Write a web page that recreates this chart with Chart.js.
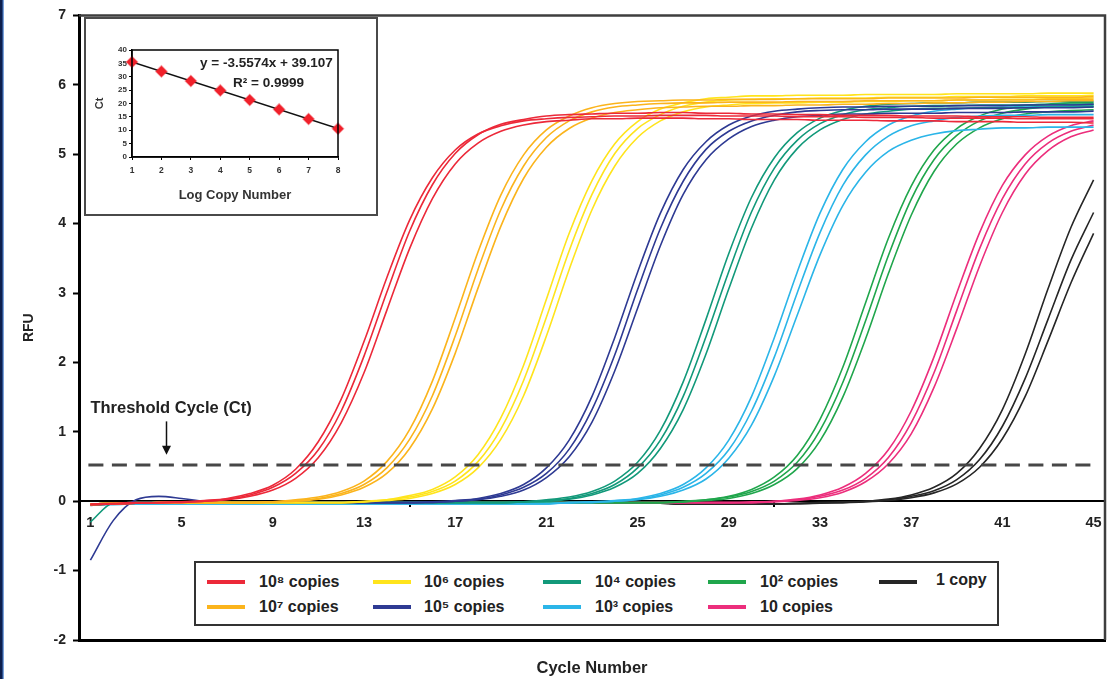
<!DOCTYPE html>
<html lang="en">
<head>
<meta charset="utf-8">
<title>Real-time PCR amplification curves</title>
<script src="https://cdn.jsdelivr.net/npm/chart.js@4.4.1/dist/chart.umd.min.js"></script>
<style>
html,body{margin:0;padding:0;background:#fff;}
#wrap{position:relative;width:1114px;height:679px;overflow:hidden;background:#fff;font-family:"Liberation Sans",Arial,sans-serif;}
#main{position:absolute;left:0;top:0;}
#edge{position:absolute;left:0;top:0;width:4px;height:679px;background:linear-gradient(to right,#0d1f4d 0,#0d1f4d 2px,#4d7fc9 3px,#a9c6ec 4px);}
#inset{position:absolute;left:84px;top:17px;width:294px;height:199px;box-sizing:border-box;border:2px solid #4a4a4a;background:#fff;}
#insetCanvas{position:absolute;left:0;top:0;}
.eq{position:absolute;font-weight:bold;font-size:13.5px;line-height:15px;color:#222;white-space:nowrap;}
#legend{position:absolute;left:194px;top:561px;width:805px;height:65px;box-sizing:border-box;border:2px solid #333;background:#fff;}
.sw{position:absolute;width:38px;height:4px;}
.lt{position:absolute;font-size:16px;line-height:18px;font-weight:bold;color:#222;white-space:nowrap;}
</style>
</head>
<body>
<div id="wrap">
  <canvas id="main" width="1114" height="679"></canvas>
  <div id="edge"></div>
  <div id="inset">
    <canvas id="insetCanvas" width="290" height="195"></canvas>
    <div class="eq" style="left:114px;top:36px;">y = -3.5574x + 39.107</div>
    <div class="eq" style="left:147px;top:56px;">R² = 0.9999</div>
  </div>
  <div id="legend"></div>
</div>
<script>
// ---------- DATA ----------
const cycles = [1,2,3,4,5,6,7,8,9,10,11,12,13,14,15,16,17,18,19,20,21,22,23,24,25,26,27,28,29,30,31,32,33,34,35,36,37,38,39,40,41,42,43,44,45];

const rfu_1e8 = [
 [-0.05,-0.04,-0.03,-0.02,-0.01,0.01,0.04,0.11,0.23,0.46, 0.86,1.47,2.30,3.22,4.05,4.66,5.06,5.29,5.41,5.48, 5.51,5.53,5.54,5.55,5.55,5.56,5.56,5.56,5.55,5.55, 5.55,5.54,5.54,5.54,5.53,5.53,5.53,5.52,5.52,5.52, 5.52,5.51,5.51,5.51,5.51],
 [-0.05,-0.04,-0.03,-0.02,-0.01,0.00,0.03,0.09,0.20,0.40, 0.74,1.30,2.09,3.01,3.89,4.56,5.01,5.28,5.43,5.50, 5.55,5.57,5.58,5.59,5.59,5.60,5.60,5.59,5.59,5.58, 5.58,5.57,5.57,5.56,5.56,5.56,5.55,5.55,5.55,5.54, 5.54,5.54,5.53,5.53,5.53],
 [-0.04,-0.03,-0.02,-0.02,-0.02,0.00,0.02,0.07,0.16,0.33, 0.63,1.13,1.85,2.75,3.64,4.36,4.86,5.16,5.33,5.42, 5.47,5.49,5.51,5.51,5.52,5.52,5.52,5.51,5.51,5.50, 5.50,5.50,5.49,5.49,5.49,5.48,5.48,5.48,5.47,5.47, 5.47,5.46,5.46,5.46,5.45]
];
const rfu_1e7 = [
 [-0.04,-0.03,-0.03,-0.02,-0.02,-0.02,-0.02,-0.02,-0.01,0.02, 0.06,0.14,0.29,0.57,1.03,1.73,2.64,3.59,4.41,4.99, 5.35,5.55,5.67,5.73,5.76,5.77,5.78,5.78,5.79,5.79, 5.79,5.80,5.80,5.80,5.80,5.81,5.81,5.81,5.81,5.82, 5.82,5.82,5.82,5.82,5.83],
 [-0.05,-0.04,-0.03,-0.03,-0.02,-0.02,-0.02,-0.02,-0.01,0.01, 0.04,0.11,0.24,0.48,0.89,1.52,2.38,3.34,4.20,4.83, 5.24,5.48,5.61,5.68,5.71,5.73,5.74,5.74,5.75,5.75, 5.75,5.76,5.76,5.76,5.77,5.77,5.77,5.77,5.78,5.78, 5.78,5.78,5.79,5.79,5.79],
 [-0.04,-0.03,-0.03,-0.02,-0.02,-0.02,-0.02,-0.02,-0.01,0.00, 0.03,0.09,0.20,0.40,0.76,1.33,2.13,3.07,3.96,4.65, 5.10,5.37,5.52,5.60,5.64,5.67,5.68,5.69,5.69,5.70, 5.70,5.71,5.71,5.72,5.72,5.73,5.73,5.74,5.74,5.75, 5.75,5.76,5.76,5.77,5.77]
];
const rfu_1e6 = [
 [-0.04,-0.03,-0.03,-0.02,-0.02,-0.02,-0.02,-0.02,-0.02,-0.02, -0.02,-0.02,0.00,0.02,0.08,0.17,0.35,0.67,1.20,1.96, 2.91,3.86,4.62,5.15,5.47,5.65,5.74,5.80,5.82,5.84, 5.84,5.85,5.85,5.85,5.86,5.86,5.86,5.86,5.87,5.87, 5.87,5.87,5.88,5.88,5.88],
 [-0.05,-0.04,-0.03,-0.03,-0.02,-0.02,-0.02,-0.02,-0.02,-0.02, -0.02,-0.02,-0.01,0.02,0.06,0.14,0.29,0.57,1.04,1.74, 2.65,3.61,4.42,5.01,5.37,5.57,5.69,5.75,5.78,5.79, 5.80,5.80,5.81,5.81,5.81,5.82,5.82,5.82,5.83,5.83, 5.83,5.84,5.84,5.84,5.85],
 [-0.04,-0.03,-0.03,-0.02,-0.02,-0.02,-0.02,-0.02,-0.02,-0.02, -0.02,-0.02,-0.01,0.01,0.04,0.11,0.24,0.48,0.89,1.52, 2.38,3.34,4.20,4.83,5.24,5.48,5.61,5.68,5.71,5.73, 5.74,5.74,5.75,5.75,5.76,5.76,5.77,5.77,5.78,5.78, 5.79,5.79,5.80,5.80,5.81]
];
const rfu_1e5 = [
 [-0.05,-0.04,-0.03,-0.03,-0.02,-0.02,-0.02,-0.02,-0.02,-0.02, -0.02,-0.02,-0.02,-0.02,-0.02,-0.01,0.01,0.04,0.11,0.24, 0.48,0.88,1.51,2.36,3.30,4.15,4.78,5.18,5.42,5.55, 5.62,5.65,5.67,5.68,5.68,5.69,5.69,5.69,5.70,5.70, 5.70,5.71,5.71,5.71,5.72],
 [-0.85,-0.28,0.02,0.07,0.04,0.00,-0.02,-0.02,-0.02,-0.02, -0.02,-0.02,-0.02,-0.02,-0.02,-0.01,0.00,0.03,0.09,0.20, 0.40,0.75,1.32,2.11,3.05,3.93,4.61,5.07,5.33,5.48, 5.56,5.61,5.63,5.64,5.64,5.65,5.65,5.65,5.66,5.66, 5.66,5.67,5.67,5.67,5.68],
 [-0.06,-0.04,-0.03,-0.02,-0.02,-0.02,-0.02,-0.02,-0.02,-0.02, -0.02,-0.02,-0.02,-0.02,-0.02,-0.02,0.00,0.02,0.07,0.16, 0.34,0.64,1.14,1.88,2.78,3.68,4.42,4.92,5.22,5.40, 5.49,5.54,5.56,5.58,5.58,5.59,5.59,5.59,5.60,5.60, 5.60,5.61,5.61,5.61,5.62]
];
const rfu_1e4 = [
 [-0.30,-0.03,-0.02,-0.02,-0.02,-0.02,-0.02,-0.02,-0.02,-0.02, -0.02,-0.02,-0.02,-0.02,-0.02,-0.02,-0.02,-0.02,-0.02,-0.01, 0.02,0.06,0.14,0.29,0.56,1.02,1.72,2.62,3.57,4.38, 4.95,5.31,5.52,5.63,5.69,5.72,5.73,5.74,5.74,5.75, 5.75,5.75,5.76,5.76,5.76],
 [-0.05,-0.04,-0.03,-0.02,-0.02,-0.02,-0.02,-0.02,-0.02,-0.02, -0.02,-0.02,-0.02,-0.02,-0.02,-0.02,-0.02,-0.02,-0.02,-0.01, 0.01,0.04,0.11,0.24,0.48,0.88,1.51,2.37,3.31,4.17, 4.80,5.20,5.44,5.57,5.64,5.67,5.69,5.70,5.70,5.71, 5.71,5.71,5.72,5.72,5.72],
 [-0.04,-0.03,-0.02,-0.02,-0.02,-0.02,-0.02,-0.02,-0.02,-0.02, -0.02,-0.02,-0.02,-0.02,-0.02,-0.02,-0.02,-0.02,-0.02,-0.01, 0.00,0.03,0.09,0.20,0.40,0.76,1.32,2.12,3.06,3.94, 4.63,5.08,5.35,5.50,5.58,5.62,5.65,5.66,5.66,5.67, 5.67,5.67,5.68,5.68,5.68]
];
const rfu_1e3 = [
 [-0.05,-0.05,-0.04,-0.04,-0.04,-0.04,-0.04,-0.04,-0.04,-0.04, -0.04,-0.04,-0.04,-0.04,-0.04,-0.04,-0.04,-0.04,-0.04,-0.04, -0.04,-0.02,-0.01,0.01,0.04,0.11,0.24,0.48,0.88,1.51, 2.36,3.30,4.15,4.78,5.18,5.42,5.55,5.62,5.65,5.67, 5.68,5.68,5.69,5.69,5.69],
 [-0.04,-0.04,-0.03,-0.03,-0.03,-0.03,-0.03,-0.03,-0.03,-0.03, -0.03,-0.03,-0.03,-0.03,-0.03,-0.03,-0.03,-0.03,-0.03,-0.03, -0.03,-0.02,-0.01,0.00,0.03,0.09,0.20,0.40,0.74,1.30, 2.08,3.00,3.87,4.55,4.99,5.26,5.41,5.48,5.53,5.55, 5.56,5.56,5.57,5.57,5.57],
 [-0.04,-0.04,-0.04,-0.04,-0.04,-0.04,-0.04,-0.04,-0.04,-0.04, -0.04,-0.04,-0.04,-0.04,-0.04,-0.04,-0.04,-0.04,-0.04,-0.04, -0.04,-0.02,-0.02,0.00,0.02,0.07,0.16,0.32,0.62,1.10, 1.81,2.68,3.55,4.26,4.74,5.04,5.20,5.29,5.34,5.36, 5.38,5.38,5.39,5.39,5.39]
];
const rfu_1e2 = [
 [-0.05,-0.04,-0.03,-0.02,-0.02,-0.02,-0.02,-0.02,-0.02,-0.02, -0.02,-0.02,-0.02,-0.02,-0.02,-0.02,-0.02,-0.02,-0.02,-0.02, -0.02,-0.02,-0.02,-0.02,-0.02,-0.02,0.00,0.02,0.07,0.17, 0.35,0.66,1.18,1.93,2.86,3.79,4.54,5.06,5.37,5.55, 5.65,5.70,5.72,5.74,5.74],
 [-0.04,-0.03,-0.02,-0.02,-0.02,-0.02,-0.02,-0.02,-0.02,-0.02, -0.02,-0.02,-0.02,-0.02,-0.02,-0.02,-0.02,-0.02,-0.02,-0.02, -0.02,-0.02,-0.02,-0.02,-0.02,-0.02,-0.01,0.02,0.06,0.14, 0.29,0.56,1.02,1.71,2.60,3.54,4.35,4.92,5.27,5.48, 5.59,5.65,5.68,5.69,5.70],
 [-0.05,-0.04,-0.03,-0.02,-0.02,-0.02,-0.02,-0.02,-0.02,-0.02, -0.02,-0.02,-0.02,-0.02,-0.02,-0.02,-0.02,-0.02,-0.02,-0.02, -0.02,-0.02,-0.02,-0.02,-0.02,-0.02,-0.01,0.01,0.04,0.11, 0.24,0.47,0.87,1.50,2.34,3.28,4.12,4.75,5.15,5.38, 5.51,5.58,5.61,5.63,5.64]
];
const rfu_10 = [
 [-0.04,-0.03,-0.02,-0.02,-0.02,-0.02,-0.02,-0.02,-0.02,-0.02, -0.02,-0.02,-0.02,-0.02,-0.02,-0.02,-0.02,-0.02,-0.02,-0.02, -0.02,-0.02,-0.02,-0.02,-0.02,-0.02,-0.02,-0.02,-0.02,-0.01, 0.00,0.03,0.09,0.20,0.40,0.74,1.30,2.08,3.00,3.87, 4.55,4.99,5.26,5.41,5.48],
 [-0.05,-0.04,-0.03,-0.02,-0.02,-0.02,-0.02,-0.02,-0.02,-0.02, -0.02,-0.02,-0.02,-0.02,-0.02,-0.02,-0.02,-0.02,-0.02,-0.02, -0.02,-0.02,-0.02,-0.02,-0.02,-0.02,-0.02,-0.02,-0.02,-0.02, 0.00,0.02,0.07,0.16,0.33,0.63,1.13,1.85,2.75,3.64, 4.36,4.86,5.16,5.33,5.42],
 [-0.04,-0.03,-0.02,-0.02,-0.02,-0.02,-0.02,-0.02,-0.02,-0.02, -0.02,-0.02,-0.02,-0.02,-0.02,-0.02,-0.02,-0.02,-0.02,-0.02, -0.02,-0.02,-0.02,-0.02,-0.02,-0.02,-0.02,-0.02,-0.02,-0.02, -0.01,0.01,0.05,0.13,0.28,0.54,0.97,1.64,2.49,3.39, 4.16,4.71,5.05,5.25,5.35]
];
const rfu_1 = [
 [-0.04,-0.03,-0.02,-0.02,-0.02,-0.02,-0.02,-0.02,-0.02,-0.02, -0.02,-0.02,-0.02,-0.02,-0.02,-0.02,-0.02,-0.02,-0.02,-0.02, -0.02,-0.02,-0.02,-0.02,-0.03,-0.03,-0.04,-0.04,-0.04,-0.04, -0.04,-0.03,-0.02,-0.01,0.00,0.03,0.09,0.20,0.40,0.76, 1.32,2.12,3.06,3.94,4.63],
 [-0.05,-0.04,-0.03,-0.02,-0.02,-0.02,-0.02,-0.02,-0.02,-0.02, -0.02,-0.02,-0.02,-0.02,-0.02,-0.02,-0.02,-0.02,-0.02,-0.02, -0.02,-0.02,-0.02,-0.02,-0.03,-0.03,-0.04,-0.04,-0.04,-0.04, -0.04,-0.03,-0.02,-0.02,0.00,0.02,0.07,0.15,0.31,0.60, 1.08,1.77,2.62,3.47,4.16],
 [-0.04,-0.03,-0.02,-0.02,-0.02,-0.02,-0.02,-0.02,-0.02,-0.02, -0.02,-0.02,-0.02,-0.02,-0.02,-0.02,-0.02,-0.02,-0.02,-0.02, -0.02,-0.02,-0.02,-0.02,-0.03,-0.03,-0.04,-0.04,-0.04,-0.04, -0.04,-0.04,-0.03,-0.02,-0.01,0.01,0.05,0.12,0.25,0.49, 0.90,1.51,2.31,3.14,3.86]
];

const seriesNames = ['10⁸ copies','10⁷ copies','10⁶ copies','10⁵ copies','10⁴ copies','10³ copies','10² copies','10 copies','1 copy'];
const seriesRuns = [rfu_1e8, rfu_1e7, rfu_1e6, rfu_1e5, rfu_1e4, rfu_1e3, rfu_1e2, rfu_10, rfu_1];
const thresholdRFU = 0.52;
const yMin = -2, yMax = 7, yStep = 1;

// inset: standard curve
const insetLogCopy = [1,2,3,4,5,6,7,8];
const insetCt = [35.5,32.0,28.4,24.9,21.3,17.8,14.2,10.6];
const insetFitCt = [35.55,10.65];

// ---------- STYLE ----------
const seriesColors = ['#ec2939','#fbb41c','#ffe41c','#2e3a93','#12997a','#2bb5e8','#20a64c','#ec2e7c','#262626'];
const FONT = '"Liberation Sans", Arial, sans-serif';
Chart.defaults.font.family = FONT;
Chart.defaults.color = '#222';

const datasets = [];
seriesRuns.forEach((runs, g) => {
  runs.forEach((run, r) => {
    datasets.push({
      label: seriesNames[g] + ' (' + (r + 1) + ')',
      data: run,
      borderColor: seriesColors[g],
      backgroundColor: seriesColors[g],
      borderWidth: 1.6,
      pointRadius: 0,
      fill: false,
      cubicInterpolationMode: 'monotone'
    });
  });
});

const mainDecor = {
  id: 'mainDecor',
  beforeDatasetsDraw(chart) {
    const {ctx, chartArea: a} = chart;
    ctx.save();
    ctx.strokeStyle = '#3e3e3e';
    ctx.lineWidth = 2.5;
    ctx.beginPath();
    ctx.moveTo(a.left, a.top); ctx.lineTo(a.right, a.top); ctx.lineTo(a.right, a.bottom);
    ctx.stroke();
    ctx.restore();
  },
  afterDatasetsDraw(chart) {
    const {ctx, scales: {x, y}} = chart;
    const ty = y.getPixelForValue(thresholdRFU);
    ctx.save();
    ctx.strokeStyle = '#474747';
    ctx.lineWidth = 3;
    ctx.setLineDash([15, 8.5]);
    ctx.beginPath();
    ctx.moveTo(x.getPixelForValue(0) - 2, ty);
    ctx.lineTo(x.getPixelForValue(cycles.length - 1), ty);
    ctx.stroke();
    ctx.setLineDash([]);
    ctx.fillStyle = '#222';
    ctx.font = 'bold 16.5px ' + FONT;
    ctx.textAlign = 'left';
    ctx.textBaseline = 'middle';
    ctx.fillText('Threshold Cycle (Ct)', x.getPixelForValue(0), y.getPixelForValue(1.33));
    const ax = Math.round(x.getPixelForValue(3.3)) + 0.5;
    const ay1 = y.getPixelForValue(1.15), ay2 = y.getPixelForValue(0.67);
    ctx.strokeStyle = '#111';
    ctx.lineWidth = 1.5;
    ctx.beginPath(); ctx.moveTo(ax, ay1); ctx.lineTo(ax, ay2 - 6); ctx.stroke();
    ctx.fillStyle = '#111';
    ctx.beginPath(); ctx.moveTo(ax - 4.5, ay2 - 9); ctx.lineTo(ax + 4.5, ay2 - 9); ctx.lineTo(ax, ay2); ctx.closePath(); ctx.fill();
    ctx.restore();
  }
};

new Chart(document.getElementById('main'), {
  type: 'line',
  data: { labels: cycles, datasets },
  options: {
    responsive: false,
    animation: false,
    devicePixelRatio: 1,
    layout: { padding: { left: 0, top: 15, right: 9, bottom: 0 } },
    plugins: { legend: { display: false }, tooltip: { enabled: false }, title: { display: false } },
    scales: {
      x: {
        type: 'category',
        offset: true,
        position: { y: 0 },
        grid: {
          offset: true, drawOnChartArea: false, drawTicks: true, tickLength: 5, lineWidth: 2,
          color: c => (c.index % 4 === 0 ? '#000' : 'rgba(0,0,0,0)'),
          tickColor: c => (c.index % 4 === 0 ? '#000' : 'rgba(0,0,0,0)')
        },
        border: { display: true, color: '#000', width: 2 },
        ticks: {
          autoSkip: false, maxRotation: 0, padding: 8, color: '#222',
          font: { size: 14.5, weight: 'bold' },
          callback(v, i) { return i % 4 === 0 ? this.getLabelForValue(v) : null; }
        }
      },
      x2: {
        type: 'category',
        offset: true,
        position: 'bottom',
        grid: { display: false },
        ticks: { display: false },
        border: { display: true, color: '#000', width: 3 },
        title: { display: true, text: 'Cycle Number', color: '#222', font: { size: 16.5, weight: 'bold' }, padding: { top: 0, bottom: 1 } },
        afterFit(s) { s.height = 39; }
      },
      y: {
        min: yMin, max: yMax,
        ticks: { stepSize: yStep, padding: 7, color: '#222', font: { size: 14, weight: 'bold' } },
        grid: { drawOnChartArea: false, drawTicks: true, tickLength: 6, tickWidth: 2, tickColor: '#000', color: '#000' },
        border: { display: true, color: '#000', width: 3 },
        title: { display: true, text: 'RFU', color: '#222', font: { size: 14, weight: 'bold' }, padding: { top: 21, bottom: 0 } },
        afterFit(s) { s.width = 79; }
      }
    }
  },
  plugins: [mainDecor]
});

// ---------- LEGEND (HTML, built from the series lists) ----------
const legendSwatchLeft = [11, 177, 347, 512, 683];
const legendTextLeft = [63, 228, 399, 564, 740];
const legendRowMid = [19, 44];
const legend = document.getElementById('legend');
seriesNames.forEach((name, g) => {
  const col = Math.floor(g / 2), row = g % 2;
  const sw = document.createElement('div');
  sw.className = 'sw';
  sw.style.left = legendSwatchLeft[col] + 'px';
  sw.style.top = (legendRowMid[row] - 2) + 'px';
  sw.style.background = seriesColors[g];
  legend.appendChild(sw);
  const t = document.createElement('div');
  t.className = 'lt';
  t.style.left = legendTextLeft[col] + 'px';
  t.style.top = (legendRowMid[row] - 9 - (g === 8 ? 2 : 0)) + 'px';
  t.textContent = name;
  legend.appendChild(t);
});

// ---------- INSET CHART ----------
const insetFrame = {
  id: 'insetFrame',
  afterDraw(chart) {
    const {ctx, chartArea: a} = chart;
    ctx.save();
    ctx.strokeStyle = '#000';
    ctx.lineWidth = 1.5;
    ctx.strokeRect(a.left, a.top, a.right - a.left, a.bottom - a.top);
    ctx.restore();
  }
};
new Chart(document.getElementById('insetCanvas'), {
  type: 'scatter',
  data: {
    datasets: [
      {
        data: insetLogCopy.map((v, i) => ({ x: v, y: insetCt[i] })),
        pointStyle: 'rectRot', pointRadius: 5.5,
        backgroundColor: '#f0202a', borderColor: 'rgba(240,32,42,0.45)', borderWidth: 1.5,
        clip: false, order: 0
      },
      {
        type: 'line',
        data: [{ x: insetLogCopy[0], y: insetFitCt[0] }, { x: insetLogCopy[insetLogCopy.length - 1], y: insetFitCt[1] }],
        borderColor: '#111', borderWidth: 1.6, pointRadius: 0, fill: false, order: 1
      }
    ]
  },
  options: {
    responsive: false,
    animation: false,
    devicePixelRatio: 1,
    layout: { padding: { left: 0, top: 31, right: 38, bottom: 0 } },
    plugins: { legend: { display: false }, tooltip: { enabled: false } },
    scales: {
      x: {
        type: 'linear', min: 1, max: 8,
        ticks: { stepSize: 1, padding: 6, color: '#333', font: { size: 8.5, weight: 'bold' } },
        grid: { drawOnChartArea: false, tickLength: 3, color: '#000' },
        border: { color: '#000', width: 1.5 },
        title: { display: true, text: 'Log Copy Number', color: '#333', font: { size: 13, weight: 'bold' }, padding: { top: 0, bottom: 11 } },
        afterFit(s) { s.height = 57; }
      },
      y: {
        min: 0, max: 40,
        ticks: { stepSize: 5, padding: 2, color: '#333', font: { size: 8, weight: 'bold' } },
        grid: { drawOnChartArea: false, tickLength: 3, color: '#000' },
        border: { color: '#000', width: 1.5 },
        title: { display: true, text: 'Ct', color: '#333', font: { size: 11, weight: 'bold' }, padding: { top: 7, bottom: 0 } },
        afterFit(s) { s.width = 46; }
      }
    }
  },
  plugins: [insetFrame]
});
</script>
</body>
</html>
